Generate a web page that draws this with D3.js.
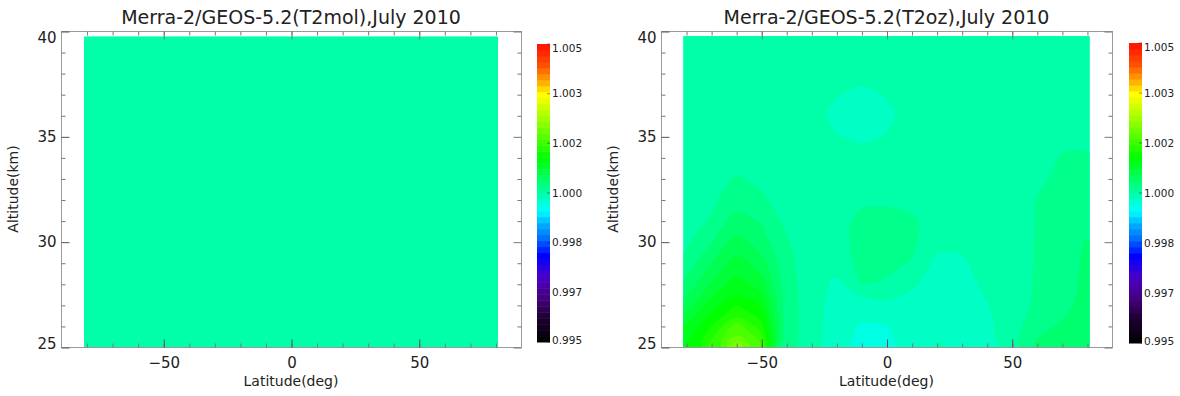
<!DOCTYPE html>
<html>
<head>
<meta charset="utf-8">
<script src="https://cdn.jsdelivr.net/npm/d3@7"></script>
<style>
  body { margin: 0; background: #fff; }
  svg { display: block; font-family: "DejaVu Sans", sans-serif; }
</style>
</head>
<body>
<svg id="chart" width="1180" height="396"></svg>
<script>
// ---- data ----
const titles = ["Merra-2/GEOS-5.2(T2mol),July 2010", "Merra-2/GEOS-5.2(T2oz),July 2010"];
const xLabel = "Latitude(deg)";
const yLabel = "Altitude(km)";
const latTicks = [-50, 0, 50];
const latMinor = [-80, -70, -60, -50, -40, -30, -20, -10, 0, 10, 20, 30, 40, 50, 60, 70, 80];
const altTicks = [25, 30, 35, 40];
const altMinor = [26, 27, 28, 29, 31, 32, 33, 34, 36, 37, 38, 39];
const cbarTicks = [0.995, 0.99667, 0.99833, 1.0, 1.00167, 1.00333, 1.005];
const cbarRange = [0.995, 1.005];
const fieldLat = [-81, 81];
const fieldAlt = [25, 39.75];

// T2mol ratio is flat over the whole panel
const t2mol = 1.0000;

// T2oz ratio, rows = altitude 40 -> 25 km, columns = latitude -80 -> 80
const gridLats = [-80, -70, -60, -50, -40, -30, -20, -10, 0, 10, 20, 30, 40, 50, 60, 70, 80];
const gridAlts = [40, 39, 38, 37, 36, 35, 34, 33, 32, 31, 30, 29, 28, 27, 26, 25];
const t2oz = [
  [1.0, 1.0, 1.0, 1.0, 1.0, 1.0, 1.0, 1.0, 1.0, 1.0, 1.0, 1.0, 1.0, 1.0, 1.0, 1.0, 1.0],
  [1.0, 1.0, 1.0, 1.0, 1.0, 1.0, 1.0, 1.0, 1.0, 1.0, 1.0, 1.0, 1.0, 1.0, 1.0, 1.0, 1.0],
  [1.0, 1.0, 1.0, 1.0, 1.0, 1.0, 1.0, 1.0, 1.0, 1.0, 1.0, 1.0, 1.0, 1.0, 1.0, 1.0, 1.0],
  [1.0, 1.0, 1.0, 1.0, 1.0, 1.0, 0.99993, 0.99978, 0.99993, 1.0, 1.0, 1.0, 1.0, 1.0, 1.0, 1.0, 1.0],
  [1.0, 1.0, 1.0, 1.0, 1.0, 1.0, 0.99978, 0.99975, 0.9998, 1.0, 1.0, 1.0, 1.0, 1.0, 1.0, 1.0, 1.0],
  [1.0, 1.0, 1.0, 1.0, 1.0, 1.0, 0.99992, 0.9998, 0.99992, 1.0, 1.0, 1.0, 1.0, 1.0, 1.0, 1.00005, 1.00005],
  [1.0, 1.0, 1.00004, 1.0, 1.0, 1.0, 1.0, 1.0, 1.0, 1.0, 1.0, 1.0, 1.0, 1.0, 1.0, 1.00012, 1.00013],
  [1.0, 1.0, 1.00012, 1.00006, 1.0, 1.0, 1.0, 1.0, 1.0, 1.0, 1.0, 1.0, 1.0, 1.0, 1.00006, 1.00014, 1.00015],
  [1.0, 1.00005, 1.00025, 1.00013, 1.0, 1.0, 1.0, 1.00006, 1.00006, 1.00002, 1.0, 1.0, 1.0, 1.0, 1.00011, 1.00018, 1.0002],
  [1.0, 1.00012, 1.0004, 1.00028, 1.00006, 1.0, 1.0, 1.0002, 1.0002, 1.00016, 1.0, 1.0, 1.0, 1.0, 1.00011, 1.00022, 1.00025],
  [1.00006, 1.00029, 1.0006, 1.0004, 1.00012, 1.0, 1.0, 1.0002, 1.0002, 1.00016, 0.99993, 0.99994, 1.0, 1.0, 1.00011, 1.00025, 1.00031],
  [1.00016, 1.0005, 1.0008, 1.0006, 1.00015, 1.0, 0.99995, 1.00018, 1.00015, 1.00009, 0.99986, 0.99986, 1.0, 1.0, 1.00012, 1.00025, 1.00032],
  [1.00035, 1.0007, 1.001, 1.0008, 1.00018, 1.0, 0.99985, 1.00012, 1.00008, 0.99995, 0.9998, 0.99982, 0.99995, 1.0, 1.00012, 1.00025, 1.00033],
  [1.0006, 1.001, 1.0013, 1.0011, 1.0002, 1.0, 0.9998, 0.9998, 0.99988, 0.9998, 0.9998, 0.9998, 0.99989, 1.0, 1.00013, 1.00025, 1.00034],
  [1.0009, 1.0013, 1.0018, 1.0014, 1.0002, 1.0, 0.99978, 0.99967, 0.99969, 0.99976, 0.99985, 0.99984, 0.99985, 1.0, 1.00024, 1.00032, 1.00035],
  [1.0011, 1.0016, 1.0023, 1.0018, 1.0002, 1.0, 0.9998, 0.99964, 0.99967, 0.99976, 0.99992, 0.99988, 0.99982, 1.00008, 1.00035, 1.0004, 1.0004]
];

// ---- colour table (IDL style rainbow), stops as fraction of the bar ----
const ctStops = [0, 0.08, 0.15, 0.22, 0.29, 0.35, 0.40, 0.44, 0.50, 0.55, 0.62, 0.71, 0.77, 0.83, 0.88, 0.93, 1];
const ctColors = ["#000000", "#1c0030", "#44007e", "#4a00c8", "#0000ff", "#0070ff", "#00b4ff", "#00ffff",
  "#00ffa8", "#00ff60", "#00ff00", "#70ff00", "#b8ff00", "#ffff00", "#ffa000", "#ff5000", "#ff1000"];
const color = d3.scaleLinear()
  .domain(ctStops.map(f => cbarRange[0] + f * (cbarRange[1] - cbarRange[0])))
  .range(ctColors)
  .interpolate(d3.interpolateRgb)
  .clamp(true);

const step = 0.0002;
const levels = d3.range(0.9951, 1.005, step);

const panels = [
  {frame: [61, 521, 31, 347], cbar: [537, 550, 44, 342]},
  {frame: [661, 1112, 31, 347], cbar: [1129, 1142, 43, 343]}
];

const svg = d3.select("#chart");

panels.forEach((p, i) => {
  const [x0, x1, y0, y1] = p.frame;
  const x = d3.scaleLinear().domain([-90, 90]).range([x0, x1]);
  const y = d3.scaleLinear().domain([25, 40]).range([y1, y0]);
  const g = svg.append("g");

  // field
  const clipId = "clip" + i;
  g.append("clipPath").attr("id", clipId).append("rect")
    .attr("x", x(fieldLat[0])).attr("y", y(fieldAlt[1]))
    .attr("width", x(fieldLat[1]) - x(fieldLat[0]))
    .attr("height", y(fieldAlt[0]) - y(fieldAlt[1]));
  const field = g.append("g").attr("clip-path", `url(#${clipId})`);

  if (i === 0) {
    field.append("rect")
      .attr("x", x(fieldLat[0])).attr("y", y(fieldAlt[1]))
      .attr("width", x(fieldLat[1]) - x(fieldLat[0]))
      .attr("height", y(fieldAlt[0]) - y(fieldAlt[1]))
      .attr("fill", color(t2mol));
  } else {
    const nx = gridLats.length, ny = gridAlts.length;
    const flat = t2oz.flat();
    const lo = d3.min(flat);
    const thr = levels.filter(t => t > lo - step);
    const contours = d3.contours().size([nx, ny]).thresholds(thr)(flat);
    const gx = d3.scaleLinear().domain([0, nx]).range([gridLats[0] - 5, gridLats[nx - 1] + 5]);
    const gy = d3.scaleLinear().domain([0, ny]).range([gridAlts[0] + 0.5, gridAlts[ny - 1] - 0.5]);
    const line = d3.line()
      .x(pt => x(gx(pt[0])))
      .y(pt => y(gy(pt[1])))
      .curve(d3.curveBasisClosed);
    field.selectAll("path").data(contours).join("path")
      .attr("d", c => c.coordinates.map(poly => poly.map(ring => line(ring.slice(0, -1))).join("")).join(""))
      .attr("fill-rule", "evenodd")
      .attr("fill", c => color(c.value + step / 2));
  }

  // frame + ticks
  g.append("rect")
    .attr("x", x0 + 0.5).attr("y", y0 + 0.5)
    .attr("width", x1 - x0).attr("height", y1 - y0)
    .attr("fill", "none").attr("stroke", "#9a9a9a");

  const tickAxis = (axis, tr, vals, len) => {
    const a = g.append("g").attr("transform", tr)
      .call(axis.tickValues(vals).tickSize(-len).tickFormat(""));
    a.select(".domain").remove();
    a.selectAll("line").attr("stroke", "#777");
    return a;
  };
  tickAxis(d3.axisBottom(x), `translate(0.5,${y1 + 0.5})`, latMinor, 4);
  tickAxis(d3.axisTop(x), `translate(0.5,${y0 + 0.5})`, latMinor, 4);
  tickAxis(d3.axisLeft(y), `translate(${x0 + 0.5},0.5)`, altMinor, 4);
  tickAxis(d3.axisRight(y), `translate(${x1 + 0.5},0.5)`, altMinor, 4);
  tickAxis(d3.axisTop(x), `translate(0.5,${y0 + 0.5})`, latTicks, 8);
  tickAxis(d3.axisRight(y), `translate(${x1 + 0.5},0.5)`, altTicks, 8);

  const xa = g.append("g").attr("transform", `translate(0.5,${y1 + 0.5})`)
    .call(d3.axisBottom(x).tickValues(latTicks).tickSize(-8).tickPadding(10)
      .tickFormat(d => d < 0 ? "\u2212" + Math.abs(d) : d));
  xa.select(".domain").remove();
  xa.selectAll("line").attr("stroke", "#555");
  xa.selectAll("text").attr("font-size", 15).attr("font-family", "DejaVu Sans").attr("fill", "#222");

  const ya = g.append("g").attr("transform", `translate(${x0 + 0.5},0.5)`)
    .call(d3.axisLeft(y).tickValues(altTicks).tickSize(-8).tickPadding(5));
  ya.select(".domain").remove();
  ya.selectAll("line").attr("stroke", "#555");
  ya.selectAll("text").attr("font-size", 15).attr("font-family", "DejaVu Sans").attr("fill", "#222")
    .attr("dy", d => d === 40 ? "0.75em" : d === 25 ? "0.05em" : "0.32em");

  // titles / labels
  g.append("text")
    .attr("x", (x0 + x1) / 2).attr("y", 24)
    .attr("text-anchor", "middle").attr("font-size", 19).attr("fill", "#222")
    .text(titles[i]);
  g.append("text")
    .attr("x", (x0 + x1) / 2).attr("y", 386)
    .attr("text-anchor", "middle").attr("font-size", 14).attr("fill", "#222")
    .text(xLabel);
  g.append("text")
    .attr("transform", `translate(${x0 - 43},${(y0 + y1) / 2}) rotate(-90)`)
    .attr("text-anchor", "middle").attr("font-size", 14).attr("fill", "#222")
    .text(yLabel);

  // colour bar
  const [cx0, cx1, cy0, cy1] = p.cbar;
  const cy = d3.scaleLinear().domain(cbarRange).range([cy1, cy0]);
  const cbar = g.append("g");
  cbar.selectAll("rect").data(d3.range(cbarRange[0], cbarRange[1] - 1e-9, step)).join("rect")
    .attr("x", cx0).attr("width", cx1 - cx0)
    .attr("y", d => cy(d + step))
    .attr("height", d => cy(d) - cy(d + step) + 0.5)
    .attr("fill", d => color(d + step / 2));
  cbar.selectAll("line").data(cbarTicks).join("line")
    .attr("x1", cx1 - 3).attr("x2", cx1)
    .attr("y1", d => cy(d)).attr("y2", d => cy(d))
    .attr("stroke", "#222").attr("stroke-opacity", 0.5);
  cbar.selectAll("text").data(cbarTicks).join("text")
    .attr("x", cx1 + 2)
    .attr("y", d => Math.min(Math.max(cy(d), cy0 + 4), cy1 - 2))
    .attr("dy", "0.35em")
    .attr("font-size", 10.5).attr("fill", "#222")
    .text(d => d3.format(".3f")(d));
});
</script>
</body>
</html>
